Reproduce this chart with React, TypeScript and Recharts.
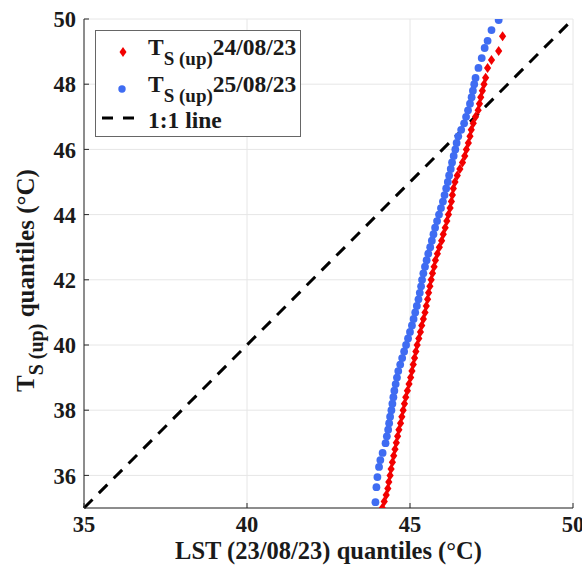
import { ScatterChart, Scatter, XAxis, YAxis, CartesianGrid, ReferenceLine } from "recharts";

const xTicks = [35, 40, 45, 50];
const yTicks = [36, 38, 40, 42, 44, 46, 48, 50];

// T_S(up) 24/08/23 quantiles vs LST 23/08/23 quantiles
const redX = [
  44.15, 44.21, 44.27, 44.32, 44.35, 44.39, 44.42, 44.46, 44.5, 44.54,
  44.58, 44.62, 44.66, 44.71, 44.75, 44.79, 44.83, 44.87, 44.92, 44.97,
  45.02, 45.06, 45.1, 45.14, 45.18, 45.22, 45.27, 45.32, 45.36, 45.41,
  45.46, 45.5, 45.54, 45.57, 45.61, 45.65, 45.69, 45.74, 45.78, 45.84,
  45.9, 45.97, 46.02, 46.08, 46.13, 46.18, 46.23, 46.27, 46.3, 46.33,
  46.38, 46.45, 46.53, 46.61, 46.68, 46.73, 46.79, 46.84, 46.88, 46.94,
  47.01, 47.09, 47.13, 47.17, 47.22, 47.27, 47.32, 47.38, 47.5, 47.72, 47.84,
];
const redY = [
  35.0, 35.2, 35.4, 35.6, 35.8, 36.0, 36.2, 36.4, 36.6, 36.8,
  37.0, 37.2, 37.4, 37.6, 37.8, 38.0, 38.2, 38.4, 38.6, 38.8,
  39.0, 39.2, 39.4, 39.6, 39.8, 40.0, 40.2, 40.4, 40.6, 40.8,
  41.0, 41.2, 41.4, 41.6, 41.8, 42.0, 42.2, 42.4, 42.6, 42.8,
  43.0, 43.2, 43.4, 43.6, 43.8, 44.0, 44.2, 44.4, 44.6, 44.8,
  45.0, 45.2, 45.4, 45.6, 45.8, 46.0, 46.2, 46.4, 46.6, 46.8,
  47.0, 47.2, 47.4, 47.6, 47.8, 48.0, 48.2, 48.5, 48.74, 49.02, 49.47,
];

// T_S(up) 25/08/23 quantiles vs LST 23/08/23 quantiles
const blueX = [
  43.94, 43.97, 44.0, 44.05, 44.09, 44.16, 44.25, 44.29,
  44.33, 44.36, 44.39, 44.43, 44.46, 44.49, 44.52, 44.56, 44.6, 44.64,
  44.7, 44.76, 44.82, 44.88, 44.94, 45.0, 45.06, 45.11, 45.16, 45.21,
  45.26, 45.3, 45.34, 45.37, 45.41, 45.46, 45.51, 45.56, 45.62, 45.67,
  45.72, 45.77, 45.83, 45.89, 45.95, 46.01, 46.06, 46.11, 46.16, 46.2,
  46.25, 46.29, 46.34, 46.39, 46.43, 46.48, 46.57, 46.66, 46.72, 46.78,
  46.84, 46.89, 46.93, 46.97,
  47.01, 47.1, 47.2, 47.29, 47.38, 47.5, 47.72,
];
const blueY = [
  35.18, 35.64, 35.95, 36.26, 36.47, 36.69, 36.99, 37.2,
  37.4, 37.6, 37.8, 38.0, 38.2, 38.4, 38.6, 38.8, 39.0, 39.2,
  39.4, 39.6, 39.8, 40.0, 40.2, 40.4, 40.6, 40.8, 41.0, 41.2,
  41.4, 41.6, 41.8, 42.0, 42.2, 42.4, 42.6, 42.8, 43.0, 43.2,
  43.4, 43.6, 43.8, 44.0, 44.2, 44.4, 44.6, 44.8, 45.0, 45.2,
  45.4, 45.6, 45.8, 46.0, 46.2, 46.4, 46.6, 46.8, 47.0, 47.2,
  47.4, 47.6, 47.8, 48.0,
  48.19, 48.5, 48.8, 49.11, 49.33, 49.66, 49.97,
];

const redData = redX.map((x, i) => ({ x, y: redY[i] }));
const blueData = blueX.map((x, i) => ({ x, y: blueY[i] }));

const RED = "#f20000";
const BLUE = "#3f6cf2";
const AXIS = "#262626";
const FONT = "'Liberation Serif', 'Times New Roman', serif";
const txt = { fontFamily: FONT, fontWeight: 700, fill: "#1a1a1a" };

const Diamond = (p: any) => (
  <polygon
    points={`${p.cx},${p.cy - 5} ${p.cx + 3.6},${p.cy} ${p.cx},${p.cy + 5} ${p.cx - 3.6},${p.cy}`}
    fill={RED}
  />
);
const Dot = (p: any) => <circle cx={p.cx} cy={p.cy} r={3.9} fill={BLUE} />;

const BottomTick = (p: any) => (
  <g>
    <line x1={p.x} y1={p.y} x2={p.x} y2={p.y - 5} stroke={AXIS} />
    <text x={p.x} y={p.y + 24} textAnchor="middle" fontSize={22.5} style={txt}>
      {p.payload.value}
    </text>
  </g>
);
const TopTick = (p: any) => <line x1={p.x} y1={p.y} x2={p.x} y2={p.y + 5} stroke={AXIS} />;
const LeftTick = (p: any) => (
  <g>
    <line x1={p.x} y1={p.y} x2={p.x + 5} y2={p.y} stroke={AXIS} />
    <text x={p.x - 8} y={p.y} dy="0.36em" textAnchor="end" fontSize={22.5} style={txt}>
      {p.payload.value}
    </text>
  </g>
);
const RightTick = (p: any) => <line x1={p.x} y1={p.y} x2={p.x - 5} y2={p.y} stroke={AXIS} />;

const XLabel = (p: any) => {
  const vb = p.viewBox;
  return (
    <text x={vb.x + vb.width / 2} y={vb.y + 51} textAnchor="middle" fontSize={24.5} style={txt}>
      LST (23/08/23) quantiles (°C)
    </text>
  );
};

const YLabel = () => (
  <text x={34} y={392} transform="rotate(-90, 34, 392)" fontSize={25} style={txt}>
    T
    <tspan fontSize={20} dy={9}>S (up)</tspan>
    <tspan dy={-9}> quantiles (°C)</tspan>
  </text>
);

function ChartLegend() {
  const row = (y: number, date: string) => (
    <text x={53} y={y} fontSize={23.5} style={txt}>
      T
      <tspan fontSize={19} dy={10}>S (up)</tspan>
      <tspan dy={-10}>{date}</tspan>
    </text>
  );
  return (
    <svg width={206} height={107} style={{ position: "absolute", left: 95, top: 30 }}>
      <rect x={0.5} y={0.5} width={205} height={106} fill="#fff" stroke="#666" />
      <polygon points="28,17 31.5,22 28,27 24.5,22" fill={RED} />
      {row(25, "24/08/23")}
      <circle cx={27} cy={59} r={3.7} fill={BLUE} />
      {row(62, "25/08/23")}
      <line x1={7} y1={88} x2={39} y2={88} stroke="#000" strokeWidth={3} strokeDasharray="11 10" />
      <text x={53} y={98} fontSize={23.5} style={txt}>
        1:1 line
      </text>
    </svg>
  );
}

export default function App() {
  return (
    <div style={{ position: "absolute", left: 0, top: 0, width: 582, height: 571, background: "#fff" }}>
      <ScatterChart width={582} height={571} margin={{ top: 19, right: 9, bottom: 0, left: 0 }}>
        <CartesianGrid stroke="#e6e6e6" />
        <XAxis
          type="number"
          dataKey="x"
          domain={[35, 50]}
          ticks={xTicks}
          interval={0}
          height={63}
          tickSize={0}
          tickMargin={0}
          tickLine={false}
          axisLine={{ stroke: AXIS }}
          tick={BottomTick}
          label={{ content: XLabel }}
          allowDataOverflow
        />
        <XAxis
          xAxisId="top"
          orientation="top"
          type="number"
          domain={[35, 50]}
          ticks={xTicks}
          interval={0}
          height={0}
          tickSize={0}
          tickMargin={0}
          tickLine={false}
          axisLine={{ stroke: AXIS }}
          tick={TopTick}
          allowDataOverflow
        />
        <YAxis
          type="number"
          dataKey="y"
          domain={[35, 50]}
          ticks={yTicks}
          interval={0}
          width={84}
          tickSize={0}
          tickMargin={0}
          tickLine={false}
          axisLine={{ stroke: AXIS }}
          tick={LeftTick}
          label={{ content: YLabel }}
          allowDataOverflow
        />
        <YAxis
          yAxisId="right"
          orientation="right"
          type="number"
          domain={[35, 50]}
          ticks={yTicks}
          interval={0}
          width={0}
          tickSize={0}
          tickMargin={0}
          tickLine={false}
          axisLine={{ stroke: AXIS }}
          tick={RightTick}
          allowDataOverflow
        />
        <Scatter name="24/08/23" data={redData} shape={Diamond} isAnimationActive={false} />
        <Scatter name="25/08/23" data={blueData} shape={Dot} isAnimationActive={false} />
        <ReferenceLine
          segment={[{ x: 35, y: 35 }, { x: 50, y: 50 }]}
          stroke="#000"
          strokeWidth={3}
          strokeDasharray="12 9"
        />
      </ScatterChart>
      <ChartLegend />
    </div>
  );
}
